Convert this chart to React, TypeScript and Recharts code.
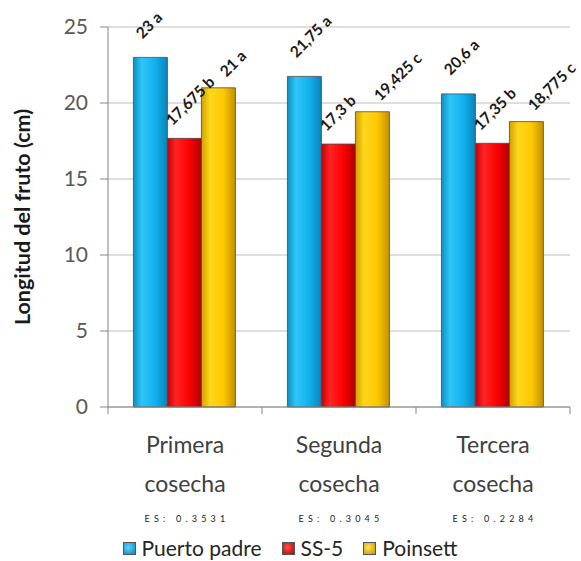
import React from 'react';
import {
  BarChart,
  Bar,
  XAxis,
  YAxis,
  CartesianGrid,
  Legend,
  LabelList,
} from 'recharts';

document.body.style.margin = '0';

const categories = ['Primera cosecha', 'Segunda cosecha', 'Tercera cosecha'];
const esLabels = ['ES: 0.3531', 'ES: 0.3045', 'ES: 0.2284'];
const yTicks = [0, 5, 10, 15, 20, 25];

const puertoPadre = [23, 21.75, 20.6];
const ss5 = [17.675, 17.3, 17.35];
const poinsett = [21, 19.425, 18.775];

const puertoLetters = ['a', 'a', 'a'];
const ss5Letters = ['b', 'b', 'b'];
const poinsettLetters = ['a', 'c', 'c'];

const data = categories.map((name, i) => ({
  name,
  es: esLabels[i],
  puerto: puertoPadre[i],
  ss5: ss5[i],
  poinsett: poinsett[i],
}));

const W = 581;
const H = 561;
const MARGIN = { top: 27, right: 11, left: 0, bottom: 0 };
const Y_WIDTH = 108;
const BAND = (W - MARGIN.right - Y_WIDTH) / categories.length;

const FONT = 'Lato, "Open Sans", sans-serif';

// label offsets per series (Excel nudges them around a bit)
const series = [
  { key: 'puerto', name: 'Puerto padre', grad: 'gBlue', letters: puertoLetters, dx: -8, dy: -18 },
  { key: 'ss5', name: 'SS-5', grad: 'gRed', letters: ss5Letters, dx: -12, dy: -12 },
  { key: 'poinsett', name: 'Poinsett', grad: 'gYellow', letters: poinsettLetters, dx: 8, dy: -10 },
];

const fmt = (v: number) => String(v).replace('.', ',');

const makeLabel = (letters: string[], dx: number, dy: number) => (props: any) => {
  const { x, y, width, value, index } = props;
  const lx = Number(x) + Number(width) / 2 + dx;
  const ly = Number(y) + dy;
  return (
    <text
      x={lx}
      y={ly}
      transform={`rotate(-45 ${lx} ${ly})`}
      textAnchor="start"
      fontFamily={FONT}
      fontWeight="bold"
      fontSize={15.5}
      fill="#1a1a1a"
    >
      {`${fmt(value)} ${letters[index]}`}
    </text>
  );
};

const CategoryTick = (props: any) => {
  const { x, y, payload, index } = props;
  const [l1, l2] = String(payload.value).split(' ');
  const es = esLabels[index];
  return (
    <g>
      <line x1={x - BAND / 2} y1={y} x2={x - BAND / 2} y2={y + 7} stroke="#868686" />
      {index === categories.length - 1 && (
        <line x1={x + BAND / 2} y1={y} x2={x + BAND / 2} y2={y + 7} stroke="#868686" />
      )}
      <text x={x} y={y + 46} textAnchor="middle" fontFamily={FONT} fontSize={23} fill="#404040">
        {l1}
      </text>
      <text x={x} y={y + 85} textAnchor="middle" fontFamily={FONT} fontSize={23} fill="#404040">
        {l2}
      </text>
      <text
        x={x + 2}
        y={y + 115}
        textAnchor="middle"
        fontFamily={FONT}
        fontSize={9}
        letterSpacing={4.2}
        fill="#222"
      >
        {es}
      </text>
    </g>
  );
};

const legendColors: Record<string, [string, string]> = {
  gBlue: ['#5fd6ff', '#0a86b8'],
  gRed: ['#ff5050', '#b00000'],
  gYellow: ['#ffe45a', '#c89400'],
};

const renderLegend = () => (
  <div
    style={{
      display: 'flex',
      justifyContent: 'center',
      alignItems: 'center',
      paddingLeft: 30,
      fontFamily: FONT,
      fontSize: 21,
      color: '#262626',
      lineHeight: '26px',
    }}
  >
    {series.map((s) => (
      <div key={s.key} style={{ display: 'flex', alignItems: 'center', marginRight: 20 }}>
        <span
          style={{
            display: 'inline-block',
            width: 11,
            height: 11,
            marginRight: 6,
            border: '1px solid #555',
            background: `radial-gradient(circle at 40% 40%, ${legendColors[s.grad][0]}, ${legendColors[s.grad][1]})`,
          }}
        />
        <span>{s.name}</span>
      </div>
    ))}
  </div>
);

export default function App() {
  return (
    <div style={{ width: W, height: H, background: '#fff' }}>
      <BarChart
        width={W}
        height={H}
        data={data}
        margin={MARGIN}
        barCategoryGap="16.5%"
        barGap={0}
      >
        <defs>
          <linearGradient id="gBlue" x1="0" y1="0" x2="1" y2="0">
            <stop offset="0%" stopColor="#0a8fc4" />
            <stop offset="25%" stopColor="#2fc6f7" />
            <stop offset="65%" stopColor="#10b0ee" />
            <stop offset="100%" stopColor="#0a84b6" />
          </linearGradient>
          <linearGradient id="gRed" x1="0" y1="0" x2="1" y2="0">
            <stop offset="0%" stopColor="#c40000" />
            <stop offset="25%" stopColor="#ff2424" />
            <stop offset="65%" stopColor="#fa0000" />
            <stop offset="100%" stopColor="#b00000" />
          </linearGradient>
          <linearGradient id="gYellow" x1="0" y1="0" x2="1" y2="0">
            <stop offset="0%" stopColor="#d2a000" />
            <stop offset="25%" stopColor="#ffd71c" />
            <stop offset="65%" stopColor="#fdc800" />
            <stop offset="100%" stopColor="#c49000" />
          </linearGradient>
        </defs>
        <CartesianGrid vertical={false} stroke="#bdbdbd" />
        <XAxis
          dataKey="name"
          height={128}
          interval={0}
          tickSize={0}
          tickMargin={0}
          tickLine={false}
          axisLine={{ stroke: '#868686' }}
          tick={<CategoryTick />}
        />
        <YAxis
          width={Y_WIDTH}
          domain={[0, 25]}
          ticks={yTicks}
          interval={0}
          tickSize={8}
          tickMargin={12}
          axisLine={{ stroke: '#868686' }}
          tickLine={{ stroke: '#868686' }}
          tick={{ fontFamily: FONT, fontSize: 21, fill: '#595959' }}
          label={{
            content: (p: any) => {
              const vb = p.viewBox;
              const cx = vb.x + 22;
              const cy = vb.y + vb.height / 2;
              return (
                <text
                  x={cx}
                  y={cy}
                  transform={`rotate(-90 ${cx} ${cy})`}
                  textAnchor="middle"
                  dominantBaseline="central"
                  fontFamily={FONT}
                  fontWeight="bold"
                  fontSize={21.5}
                  fill="#1a1a1a"
                >
                  Longitud del fruto  (cm)
                </text>
              );
            },
          }}
        />
        <Legend verticalAlign="bottom" height={26} content={renderLegend} />
        {series.map((s) => (
          <Bar
            key={s.key}
            dataKey={s.key}
            name={s.name}
            fill={`url(#${s.grad})`}
            stroke="#4a4a4a"
            strokeWidth={0.8}
            isAnimationActive={false}
          >
            <LabelList dataKey={s.key} content={makeLabel(s.letters, s.dx, s.dy)} />
          </Bar>
        ))}
      </BarChart>
    </div>
  );
}
